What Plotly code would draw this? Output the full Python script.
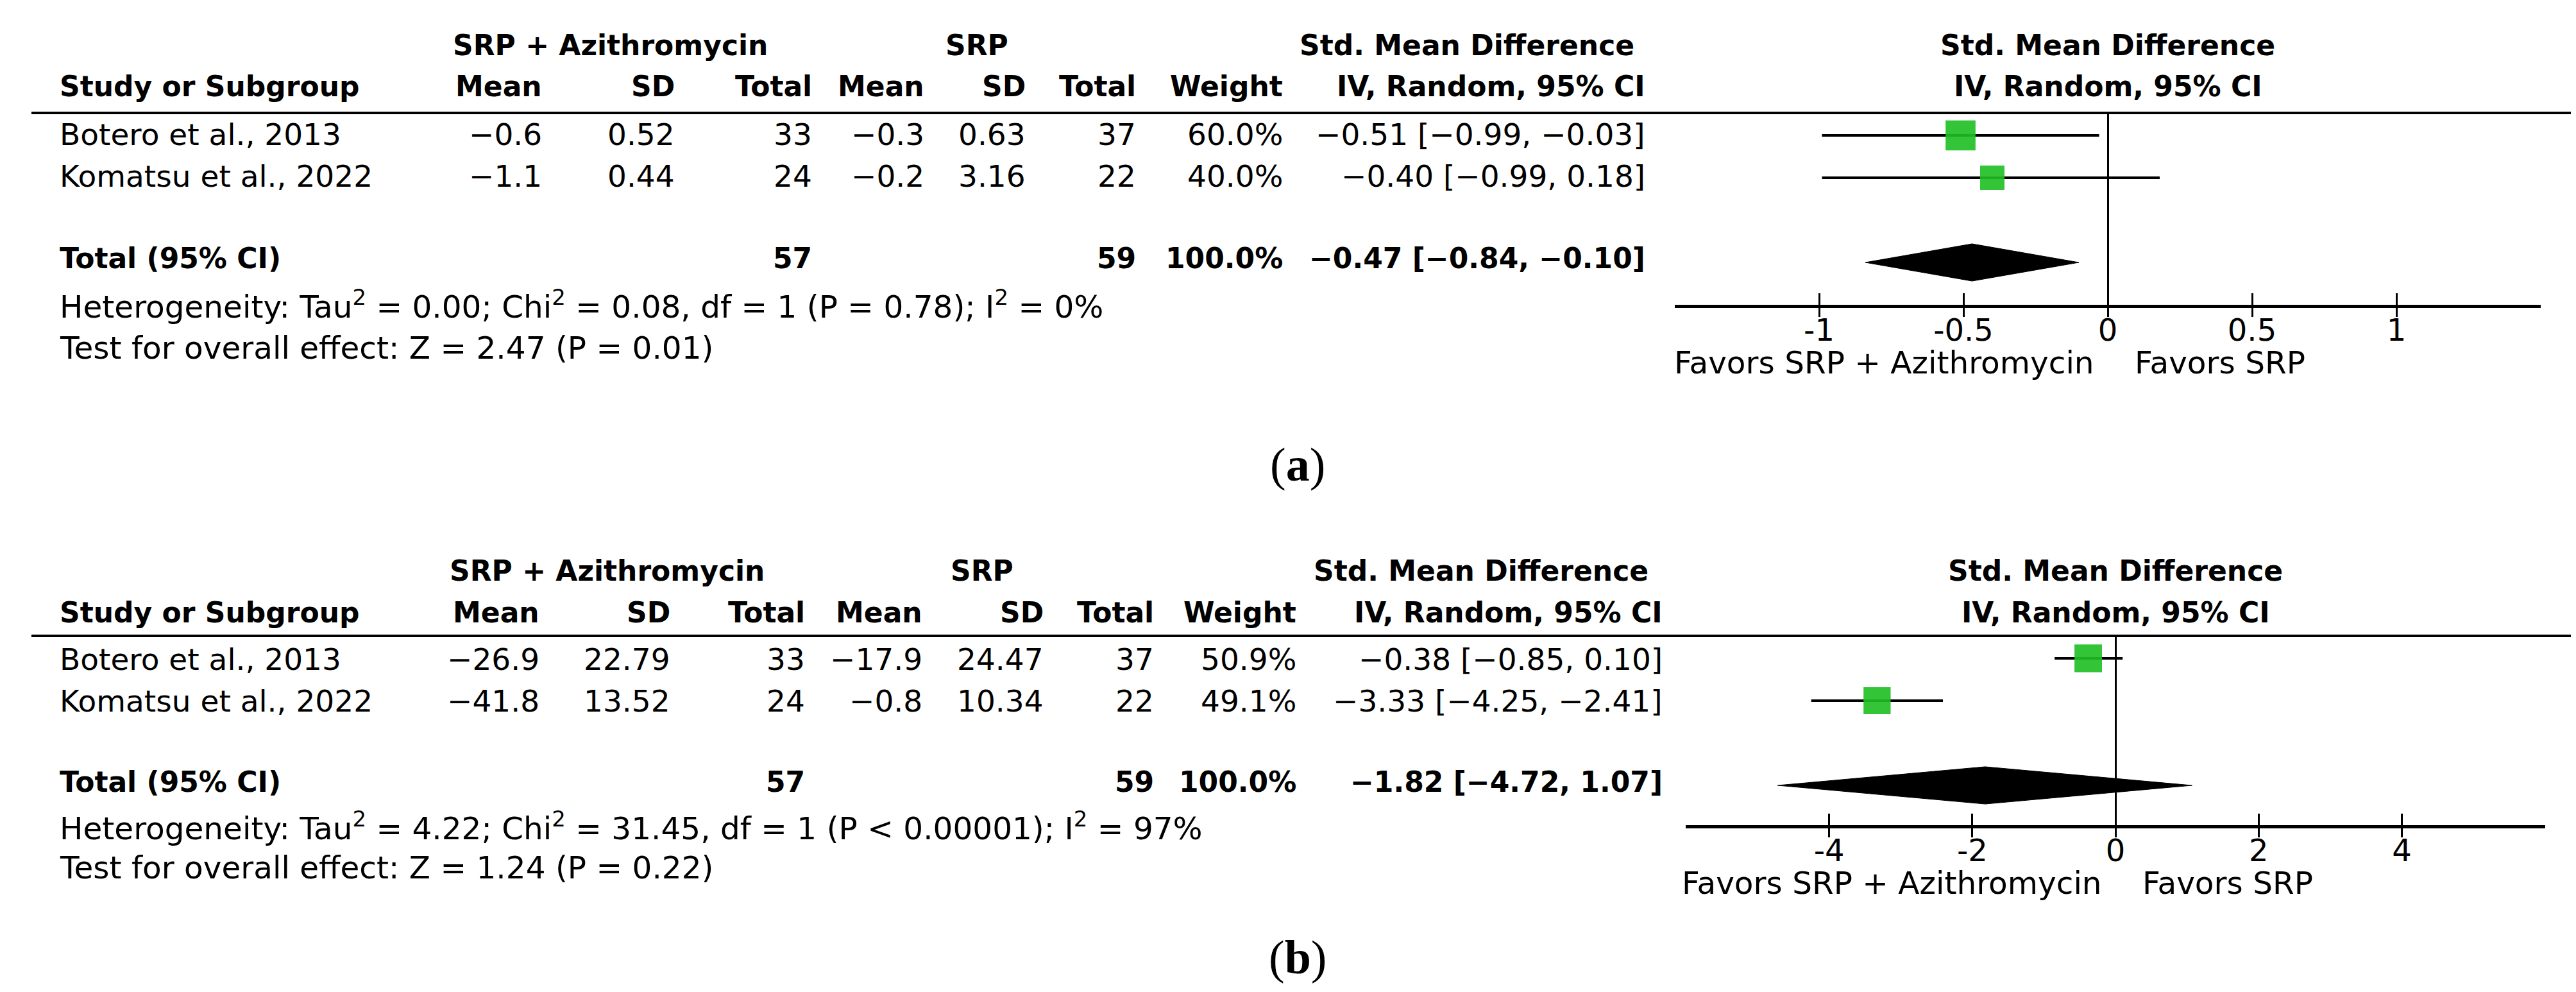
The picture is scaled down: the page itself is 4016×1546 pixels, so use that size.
import plotly.graph_objects as go

W, H = 4016, 1546
FONT = "DejaVu Sans"
SERIF = "Liberation Serif"
GREEN = "#1FBF24"
DY = -6          # small global vertical correction for annotation text (px)

# ---------------- data ----------------
studies = ["Botero et al., 2013", "Komatsu et al., 2022"]
exp_label = "SRP + Azithromycin"
ctl_label = "SRP"

# panel (a)
a_exp_mean = [-0.6, -1.1]
a_exp_sd = [0.52, 0.44]
a_exp_n = [33, 24]
a_ctl_mean = [-0.3, -0.2]
a_ctl_sd = [0.63, 3.16]
a_ctl_n = [37, 22]
a_weight = [60.0, 40.0]
a_smd = [-0.51, -0.40]
a_lo = [-0.99, -0.99]
a_hi = [-0.03, 0.18]
a_tot_smd, a_tot_lo, a_tot_hi = -0.47, -0.84, -0.10
a_tot_exp_n, a_tot_ctl_n, a_tot_w = 57, 59, 100.0
a_het = "Heterogeneity: Tau<sup>2</sup> = 0.00; Chi<sup>2</sup> = 0.08, df = 1 (P = 0.78); I<sup>2</sup> = 0%"
a_test = "Test for overall effect: Z = 2.47 (P = 0.01)"
a_ticks = [-1, -0.5, 0, 0.5, 1]
a_ticktext = ["-1", "-0.5", "0", "0.5", "1"]
a_range = [-1.5, 1.5]

# panel (b)
b_exp_mean = [-26.9, -41.8]
b_exp_sd = [22.79, 13.52]
b_exp_n = [33, 24]
b_ctl_mean = [-17.9, -0.8]
b_ctl_sd = [24.47, 10.34]
b_ctl_n = [37, 22]
b_weight = [50.9, 49.1]
b_smd = [-0.38, -3.33]
b_lo = [-0.85, -4.25]
b_hi = [0.10, -2.41]
b_tot_smd, b_tot_lo, b_tot_hi = -1.82, -4.72, 1.07
b_tot_exp_n, b_tot_ctl_n, b_tot_w = 57, 59, 100.0
b_het = "Heterogeneity: Tau<sup>2</sup> = 4.22; Chi<sup>2</sup> = 31.45, df = 1 (P < 0.00001); I<sup>2</sup> = 97%"
b_test = "Test for overall effect: Z = 1.24 (P = 0.22)"
b_ticks = [-4, -2, 0, 2, 4]
b_ticktext = ["-4", "-2", "0", "2", "4"]
b_range = [-6, 6]

study_rows = [1, 2]
total_row = 4

# ---------------- helpers ----------------
def X(px):
    return px / W

def Y(py):
    return 1 - py / H

def m(v, d):
    s = f"{v:.{d}f}"
    return s.replace("-", "\u2212")

def ci(e, l, h):
    return f"{m(e,2)} [{m(l,2)}, {m(h,2)}]"

annotations = []
shapes = []

def ann(text, x, y, xa="left", bold=False, size=47, family=FONT):
    if bold:
        text = f"<b>{text}</b>"
        size = 44 if size == 47 else size
    annotations.append(dict(text=text, x=X(x), y=Y(y + DY), xref="paper", yref="paper",
                            xanchor=xa, yanchor="middle", showarrow=False,
                            font=dict(family=family, size=size, color="black")))

fig = go.Figure()

panels = [
    dict(key="a", xa="x", ya="y", xa3="x3",
         exp_mean=a_exp_mean, exp_sd=a_exp_sd, exp_n=a_exp_n,
         ctl_mean=a_ctl_mean, ctl_sd=a_ctl_sd, ctl_n=a_ctl_n,
         weight=a_weight, smd=a_smd, lo=a_lo, hi=a_hi,
         tot=(a_tot_smd, a_tot_lo, a_tot_hi), totn=(a_tot_exp_n, a_tot_ctl_n, a_tot_w),
         het=a_het, test=a_test, ticks=a_ticks, ticktext=a_ticktext, rng=a_range,
         cols=dict(m1=839, s1=1046, t1=1260, m2=1435, s2=1593, t2=1765, w=1994, ci=2559),
         g1=943, g2=1515, smdc=2279,
         ys=dict(h1=69, h2=133, r=[208, 273], tot=400, het=472, test=540),
         rule=168, axis_y=467, row1=203, zero_px=3278, ppu=450, label="a", label_y=722),
    dict(key="b", xa="x2", ya="y2", xa3="x4",
         exp_mean=b_exp_mean, exp_sd=b_exp_sd, exp_n=b_exp_n,
         ctl_mean=b_ctl_mean, ctl_sd=b_ctl_sd, ctl_n=b_ctl_n,
         weight=b_weight, smd=b_smd, lo=b_lo, hi=b_hi,
         tot=(b_tot_smd, b_tot_lo, b_tot_hi), totn=(b_tot_exp_n, b_tot_ctl_n, b_tot_w),
         het=b_het, test=b_test, ticks=b_ticks, ticktext=b_ticktext, rng=b_range,
         cols=dict(m1=835, s1=1039, t1=1249, m2=1432, s2=1621, t2=1793, w=2015, ci=2586),
         g1=938, g2=1523, smdc=2301,
         ys=dict(h1=887, h2=953, r=[1025, 1090], tot=1216, het=1285, test=1350),
         rule=983, axis_y=1278, row1=1018, zero_px=3290, ppu=111.6, label="b", label_y=1490),
]

ROW_PX = 66
layout_axes = {}

for p in panels:
    c = p["cols"]
    ys = p["ys"]
    # header row 1
    ann(exp_label, p["g1"], ys["h1"], "center", bold=True)
    ann(ctl_label, p["g2"], ys["h1"], "center", bold=True)
    ann("Std. Mean Difference", p["smdc"], ys["h1"], "center", bold=True)
    # header row 2
    ann("Study or Subgroup", 83, ys["h2"], "left", bold=True)
    for key, txt in [("m1", "Mean"), ("s1", "SD"), ("t1", "Total"), ("m2", "Mean"),
                     ("s2", "SD"), ("t2", "Total"), ("w", "Weight"), ("ci", "IV, Random, 95% CI")]:
        ann(txt, c[key], ys["h2"], "right", bold=True)
    # study rows
    for i, s in enumerate(studies):
        yy = ys["r"][i]
        ann(s, 83, yy, "left")
        ann(m(p["exp_mean"][i], 1), c["m1"], yy, "right")
        ann(m(p["exp_sd"][i], 2), c["s1"], yy, "right")
        ann(str(p["exp_n"][i]), c["t1"], yy, "right")
        ann(m(p["ctl_mean"][i], 1), c["m2"], yy, "right")
        ann(m(p["ctl_sd"][i], 2), c["s2"], yy, "right")
        ann(str(p["ctl_n"][i]), c["t2"], yy, "right")
        ann(f"{p['weight'][i]:.1f}%", c["w"], yy, "right")
        ann(ci(p["smd"][i], p["lo"][i], p["hi"][i]), c["ci"], yy, "right")
    # total row
    ann("Total (95% CI)", 83, ys["tot"], "left", bold=True)
    ann(str(p["totn"][0]), c["t1"], ys["tot"], "right", bold=True)
    ann(str(p["totn"][1]), c["t2"], ys["tot"], "right", bold=True)
    ann(f"{p['totn'][2]:.1f}%", c["w"], ys["tot"], "right", bold=True)
    ann(ci(*p["tot"]), c["ci"], ys["tot"], "right", bold=True)
    ann(p["het"], 83, ys["het"], "left", size=48.5)
    ann(p["test"], 83, ys["test"], "left", size=48.5)
    # panel label
    ann(f"(<b>{p['label']}</b>)", 2015, p["label_y"], "center", size=74, family=SERIF)

    # header rule across the whole figure
    shapes.append(dict(type="line", xref="paper", yref="paper", x0=X(41), x1=X(4002),
                       y0=Y(p["rule"]), y1=Y(p["rule"]), line=dict(color="black", width=4)))

    # forest axes geometry
    x_left_px = p["zero_px"] + p["rng"][0] * p["ppu"]
    x_right_px = p["zero_px"] + p["rng"][1] * p["ppu"]
    r_top = 1 + (p["rule"] - p["row1"]) / ROW_PX
    r_bot = 1 + (p["axis_y"] - p["row1"]) / ROW_PX
    xdom = [X(x_left_px), X(x_right_px)]
    ydom = [Y(p["axis_y"]), Y(p["rule"])]
    xname = "xaxis" + p["xa"][1:]
    yname = "yaxis" + p["ya"][1:]
    x3name = "xaxis" + p["xa3"][1:]
    # main axis: upward ticks + labels
    layout_axes[xname] = dict(domain=xdom, range=p["rng"], anchor=p["ya"],
                              tickvals=p["ticks"], ticktext=p["ticktext"],
                              ticks="inside", ticklen=18, tickwidth=3, tickcolor="black",
                              ticklabelstandoff=-7,
                              showline=True, linewidth=5, linecolor="black",
                              showgrid=False, zeroline=True, zerolinecolor="black",
                              zerolinewidth=2.5,
                              tickfont=dict(family=FONT, size=48, color="black"),
                              fixedrange=True)
    # overlay axis: downward tick halves
    layout_axes[x3name] = dict(overlaying=p["xa"], range=p["rng"], anchor=p["ya"],
                               tickvals=p["ticks"], ticks="outside", ticklen=18, tickwidth=3,
                               tickcolor="black", showticklabels=False, showline=False,
                               showgrid=False, zeroline=False, side="bottom", fixedrange=True)
    layout_axes[yname] = dict(domain=ydom, range=[r_bot, r_top], visible=False,
                              showgrid=False, zeroline=False, fixedrange=True)

    # plot headers
    for txt, yy in [("<b>Std. Mean Difference</b>", ys["h1"]), ("<b>IV, Random, 95% CI</b>", ys["h2"])]:
        annotations.append(dict(text=txt, x=0.5, y=Y(yy + DY),
                                xref=p["xa"] + " domain", yref="paper", xanchor="center",
                                yanchor="middle", showarrow=False,
                                font=dict(family=FONT, size=44, color="black")))
    # favours labels
    fav_y = p["axis_y"] + 96 + DY
    annotations.append(dict(text="Favors " + exp_label, x=0, y=Y(fav_y), xref=p["xa"],
                            yref="paper", xanchor="right", yanchor="middle", xshift=-19,
                            showarrow=False, font=dict(family=FONT, size=48.5, color="black")))
    annotations.append(dict(text="Favors " + ctl_label, x=0, y=Y(fav_y), xref=p["xa"],
                            yref="paper", xanchor="left", yanchor="middle", xshift=40,
                            showarrow=False, font=dict(family=FONT, size=48.5, color="black")))

    sizes = [6.0 * w ** 0.5 for w in p["weight"]]
    # CI lines
    fig.add_trace(go.Scatter(
        x=p["smd"], y=study_rows, mode="markers", xaxis=p["xa"], yaxis=p["ya"],
        marker=dict(symbol="square", color=GREEN, size=sizes, line=dict(width=0)),
        error_x=dict(type="data", symmetric=False,
                     array=[h - e for h, e in zip(p["hi"], p["smd"])],
                     arrayminus=[e - l for e, l in zip(p["smd"], p["lo"])],
                     width=0, thickness=4, color="black"),
        hoverinfo="skip", showlegend=False))
    # squares on top of CI lines
    fig.add_trace(go.Scatter(
        x=p["smd"], y=study_rows, mode="markers", xaxis=p["xa"], yaxis=p["ya"],
        marker=dict(symbol="square", color=GREEN, size=sizes, line=dict(width=0)),
        hoverinfo="skip", showlegend=False))
    # pooled diamond
    e, l, h = p["tot"]
    hh = 0.44
    fig.add_trace(go.Scatter(
        x=[l, e, h, e, l], y=[total_row, total_row - hh, total_row, total_row + hh, total_row],
        mode="lines", fill="toself", fillcolor="black", line=dict(color="black", width=1),
        xaxis=p["xa"], yaxis=p["ya"], hoverinfo="skip", showlegend=False))
    # dummy trace so the overlay tick axis is drawn
    fig.add_trace(go.Scatter(x=[None], y=[None], xaxis=p["xa3"], yaxis=p["ya"],
                             showlegend=False, hoverinfo="skip"))

fig.update_layout(
    width=W, height=H, autosize=False,
    margin=dict(l=0, r=0, t=0, b=0, pad=0),
    paper_bgcolor="white", plot_bgcolor="rgba(0,0,0,0)",
    annotations=annotations, shapes=shapes, showlegend=False,
    font=dict(family=FONT, size=47, color="black"),
    **layout_axes,
)

fig.write_html("out.html", config={"displayModeBar": False})
